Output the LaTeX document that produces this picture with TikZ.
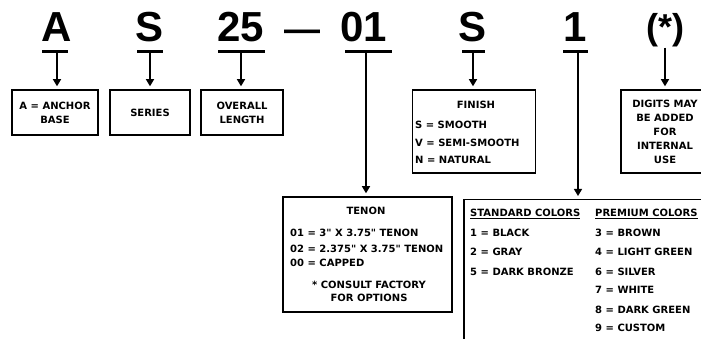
\documentclass[tikz,border=0pt]{standalone}
\usepackage{fontspec}
\setmainfont{DejaVu Sans}
\newfontfamily\codefont{Liberation Sans}
\usetikzlibrary{arrows.meta,positioning}

\begin{document}
\begin{tikzpicture}[
    x=1pt, y=-1pt,
    code/.style={font=\codefont\bfseries\fontsize{42}{42}\selectfont, inner sep=0pt, anchor=base},
    box/.style={draw, line width=1.5pt, inner sep=2pt, align=center, font=\bfseries\fontsize{10}{14}\selectfont},
    txt/.style={inner sep=0pt, anchor=base west, font=\bfseries\fontsize{10}{14}\selectfont},
    bar/.style={line width=3pt},
    arrow/.style={-{Triangle[width=8pt,length=7pt]}, line width=1.3pt, shorten >=3pt}
]
    \useasboundingbox (0,0) rectangle (701,339);

    % part number codes
    \node[code] (cA) at (57,42) {A};
    \node[code] (cS) at (150,42) {S};
    \node[code] (cL) at (241,42) {25};
    \node[code, font=\codefont\bfseries\fontsize{36}{36}\selectfont] (dash) at (302,42) {—};
    \node[code] (cT) at (364,42) {01};
    \node[code] (cF) at (473,42) {S};
    \node[code] (cC) at (575,42) {1};
    \node[code, font=\codefont\bfseries\fontsize{36}{36}\selectfont] (cD) at (665,40) {(*)};

    % bars under the codes
    \draw[bar] (42,52) -- (68,52);
    \draw[bar] (137,52) -- (163,52);
    \draw[bar] (218,52) -- (265,52);
    \draw[bar] (345,52) -- (392,52);
    \draw[bar] (462,52) -- (485,52);
    \draw[bar] (563,52) -- (588,52);
    \coordinate (tA) at (57,52);
    \coordinate (tS) at (150,52);
    \coordinate (tL) at (241,52);
    \coordinate (tT) at (366,52);
    \coordinate (tF) at (473,52);
    \coordinate (tC) at (578,52);

    % small boxes
    \node[box, minimum width=86pt, minimum height=45pt] (bA) at (55,112.5) {A = ANCHOR\\BASE};
    \node[box, minimum width=80pt, minimum height=45pt] (bS) at (150,112.5) {SERIES};
    \node[box, minimum width=82pt, minimum height=45pt] (bL) at (242,112.5) {OVERALL\\LENGTH};
    \node[box, minimum width=88pt, minimum height=83pt] (bD) at (665,131.5) {DIGITS MAY\\BE ADDED\\FOR\\INTERNAL\\USE};

    % finish
    \node[box, minimum width=123pt, minimum height=83pt] (bF) at (474,131.5) {};
    \node[txt, anchor=base] (fH) at (476,109) {FINISH};
    \node[txt] (f1) at (415,128.5) {S = SMOOTH};
    \node[txt] (f2) at (415,146.5) {V = SEMI-SMOOTH};
    \node[txt] (f3) at (415,163.5) {N = NATURAL};

    % tenon
    \node[box, minimum width=169pt, minimum height=115pt] (bT) at (367.5,254.5) {};
    \node[txt, anchor=base] (tH) at (366,214.5) {TENON};
    \node[txt] (t1) at (290,236.5) {01 = 3\textquotedbl{} X 3.75\textquotedbl{} TENON};
    \node[txt] (t2) at (290,252.5) {02 = 2.375\textquotedbl{} X 3.75\textquotedbl{} TENON};
    \node[txt] (t3) at (290,266.5) {00 = CAPPED};
    \node[txt, anchor=base] (t4) at (369,288.5) {* CONSULT FACTORY};
    \node[txt, anchor=base] (t5) at (369,301.5) {FOR OPTIONS};

    % colors
    \node[box, anchor=north west, minimum width=260pt, minimum height=160pt] (bC) at (463,199) {};
    \node[txt] (sH) at (470,216.5) {\underline{STANDARD COLORS}};
    \node[txt] (pH) at (595,216.5) {\underline{PREMIUM COLORS}};
    \node[txt] (s1) at (470,236.5) {1 = BLACK};
    \node[txt] (s2) at (470,255.5) {2 = GRAY};
    \node[txt] (s3) at (470,275.5) {5 = DARK BRONZE};
    \node[txt] (p1) at (595,236.5) {3 = BROWN};
    \node[txt] (p2) at (595,255.5) {4 = LIGHT GREEN};
    \node[txt] (p3) at (595,275.5) {6 = SILVER};
    \node[txt] (p4) at (595,293.5) {7 = WHITE};
    \node[txt] (p5) at (595,313.5) {8 = DARK GREEN};
    \node[txt] (p6) at (595,331.5) {9 = CUSTOM};

    % arrows
    \draw[arrow] (tA) -- (tA |- bA.north);
    \draw[arrow] (tS) -- (tS |- bS.north);
    \draw[arrow] (tL) -- (tL |- bL.north);
    \draw[arrow] (tT) -- (tT |- bT.north);
    \draw[arrow] (tF) -- (tF |- bF.north);
    \draw[arrow] (tC) -- (tC |- bC.north);
    \draw[arrow] (cD.south) -- (cD |- bD.north);

\end{tikzpicture}
\end{document}
